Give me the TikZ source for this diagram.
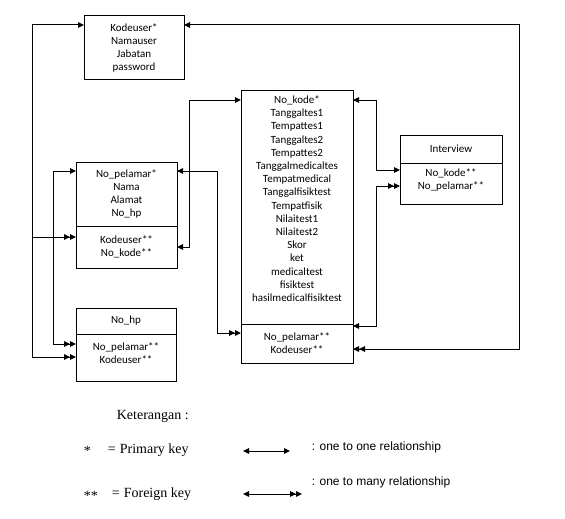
\documentclass[tikz,border=0pt]{standalone}
\usepackage{fontspec}
\setmainfont{Carlito}
\newfontfamily\legendserif{Liberation Serif}
\newfontfamily\legendsans{Liberation Sans}
\usetikzlibrary{positioning,arrows.meta}

\begin{document}
\begin{tikzpicture}[x=1pt, y=-1pt, line width=1pt,
	box/.style={draw, rectangle, inner sep=0pt, outer sep=0pt, align=center, font=\fontsize{11}{13}\selectfont},
	o2o/.style={{Triangle[length=6pt,width=5.5pt]}-{Triangle[length=6pt,width=5.5pt]}},
	o2m/.style={{Triangle[length=6pt,width=5.5pt]}-{Triangle[length=6pt,width=5.5pt]Triangle[length=6pt,width=5.5pt]}},
	tomany/.style={-{Triangle[length=6pt,width=5.5pt]Triangle[length=6pt,width=5.5pt]}}]
			\useasboundingbox (0,0) rectangle (565,519);

			% user
			\node (U) [box, anchor=north west, minimum width=100pt, minimum height=64pt] at (84,16) {Kodeuser*\\Namauser\\Jabatan\\password};

			% pelamar
			\node (P1) [box, anchor=north west, minimum width=101pt, minimum height=64pt] at (76,162) {No\_pelamar*\\Nama\\Alamat\\No\_hp};
			\node (P2) [box, minimum width=101pt, minimum height=42pt, below=0pt of P1] {Kodeuser**\\No\_kode**};

			% no hp
			\node (H1) [box, anchor=north west, minimum width=100pt, minimum height=26pt] at (76,308) {No\_hp};
			\node (H2) [box, minimum width=100pt, minimum height=47pt, text depth=9pt, below=0pt of H1] {No\_pelamar**\\Kodeuser**};

			% test
			\node (T1) [box, anchor=north west, minimum width=112pt, minimum height=234pt, text depth=17pt, font=\fontsize{11}{13.2}\selectfont] at (241,90)
				{No\_kode*\\Tanggaltes1\\Tempattes1\\Tanggaltes2\\Tempattes2\\Tanggalmedicaltes\\Tempatmedical\\Tanggalfisiktest\\Tempatfisik\\Nilaitest1\\Nilaitest2\\Skor\\ket\\medicaltest\\fisiktest\\hasilmedicalfisiktest};
			\node (T2) [box, minimum width=112pt, minimum height=39pt, below=0pt of T1] {No\_pelamar**\\Kodeuser**};

			% interview
			\node (I1) [box, anchor=north west, minimum width=102pt, minimum height=28pt] at (400,135) {Interview};
			\node (I2) [box, minimum width=102pt, minimum height=41pt, text depth=8pt, below=0pt of I1] {No\_kode**\\No\_pelamar**};

			% relations
			\draw[o2m] (U.west |- 0,25) -- (32,25) -- (32,357) -- (H2.west |- 0,357);
			\coordinate (k1) at (32,237);
			\draw[tomany] (k1) -- (P2.west |- k1);
			\draw[o2m] (P1.west |- 0,171) -- (53,171) -- (53,344) -- (H2.west |- 0,344);
			\draw[o2m] (P1.east |- 0,171) -- (217,171) -- (217,333) -- (T2.west |- 0,333);
			\draw[o2o] (P2.east |- 0,247) -- (189,247) -- (189,100) -- (T1.west |- 0,100);
			\draw[o2o] (T1.east |- 0,100) -- (376,100) -- (376,170) -- (I2.west |- 0,170);
			\draw[o2m] (T2.east |- 0,326) -- (376,326) -- (376,186) -- (I2.west |- 0,186);
			\draw[o2m] (U.east |- 0,25) -- (519,25) -- (519,349) -- (T2.east |- 0,349);

			% keterangan
			\node (K) [anchor=west, font=\legendserif\fontsize{14}{16}\selectfont] at (113,416) {Keterangan :};
			\node (S1) [anchor=west, font=\legendserif\fontsize{14}{16}\selectfont] at (80,451) {*};
			\node (E1) [anchor=west, font=\legendserif\fontsize{14}{16}\selectfont] at (104,450) {=};
			\node (PK) [anchor=west, font=\legendserif\fontsize{14}{16}\selectfont] at (116,450) {Primary key};
			\node (S2) [anchor=west, font=\legendserif\fontsize{14}{16}\selectfont] at (80,496) {**};
			\node (E2) [anchor=west, font=\legendserif\fontsize{14}{16}\selectfont] at (108,494) {=};
			\node (FK) [anchor=west, font=\legendserif\fontsize{14}{16}\selectfont] at (120,494) {Foreign key};
			\coordinate (a1) at (243,451);
			\coordinate (b1) at (290,451);
			\draw[o2o] (a1) -- (b1);
			\coordinate (a2) at (243,494);
			\coordinate (b2) at (302,494);
			\draw[o2m] (a2) -- (b2);
			\node (R1) [anchor=west, font=\legendsans\fontsize{12}{14}\selectfont] at (308,447) {: one to one relationship};
			\node (R2) [anchor=west, font=\legendsans\fontsize{12}{14}\selectfont] at (308,482) {: one to many relationship};
		\end{tikzpicture}
\end{document}
